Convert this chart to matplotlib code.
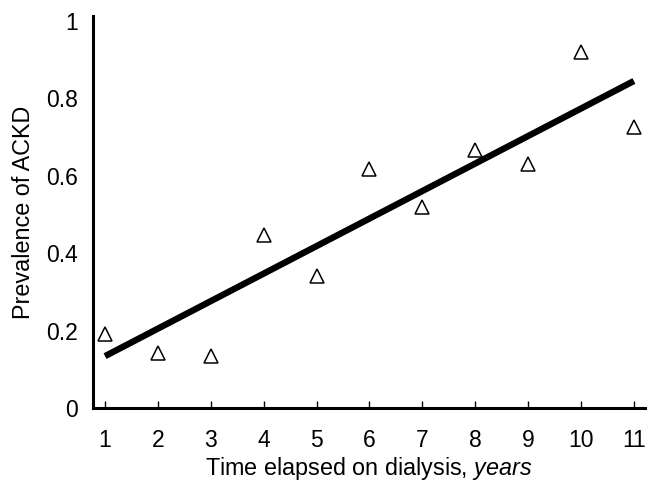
import matplotlib
matplotlib.use("Agg")
import matplotlib.pyplot as plt

years = [1, 2, 3, 4, 5, 6, 7, 8, 9, 10, 11]
prevalence = [0.191, 0.142, 0.134, 0.447, 0.341, 0.617, 0.519, 0.666, 0.630, 0.920, 0.726]
trend_x = [1, 11]
trend_y = [0.134, 0.845]
ytick_vals = [0, 0.2, 0.4, 0.6, 0.8, 1]
ytick_labels = ["0", "0.2", "0.4", "0.6", "0.8", "1"]

plt.rcParams['font.family'] = ['Liberation Sans', 'DejaVu Sans']
plt.rcParams['mathtext.fontset'] = 'custom'
plt.rcParams['mathtext.rm'] = 'Liberation Sans'
plt.rcParams['mathtext.it'] = 'Liberation Sans:italic'

fig = plt.figure(figsize=(6.51, 4.83), dpi=100)
ax = fig.add_axes([0.1429, 0.1553, 0.8479, 0.8116])

ax.plot(trend_x, trend_y, color='black', lw=4.6, solid_capstyle='butt', zorder=2)
ax.plot(years, prevalence, linestyle='none', marker='^', markersize=10,
        markerfacecolor='white', markeredgecolor='black', markeredgewidth=1.1, zorder=3)

ax.set_xlim(0.773, 11.21)
ax.set_ylim(0, 1.013)
ax.set_xticks(years)
ax.set_xticklabels([str(y) for y in years])
ax.set_yticks(ytick_vals)
ax.set_yticklabels(ytick_labels)

for s in ['top', 'right']:
    ax.spines[s].set_visible(False)
for s in ['left', 'bottom']:
    ax.spines[s].set_linewidth(2.2)
    ax.spines[s].set_color('black')

ax.tick_params(axis='x', direction='in', length=5, width=1, pad=15, labelsize=16.5)
ax.tick_params(axis='y', length=0, pad=11, labelsize=16.5)

ax.set_xlabel("Time elapsed on dialysis, $\\it{years}$", fontsize=16.8, labelpad=2)
ax.set_ylabel("Prevalence of ACKD", fontsize=16.8, labelpad=8)

fig.savefig("out.png", dpi=100)
